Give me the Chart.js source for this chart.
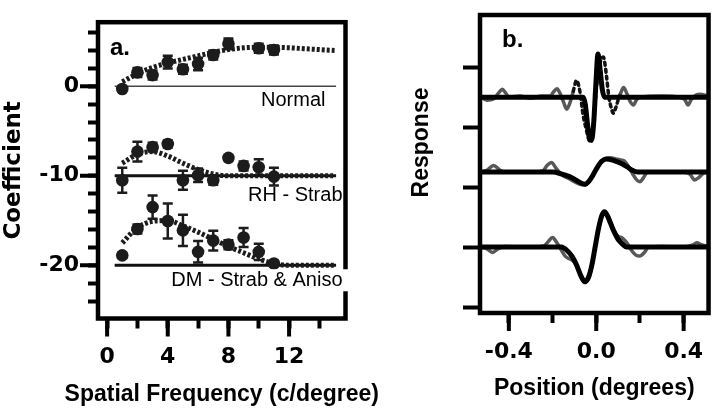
<!DOCTYPE html>
<html>
<head>
<meta charset="utf-8">
<script src="https://cdn.jsdelivr.net/npm/chart.js@4.4.0/dist/chart.umd.min.js"></script>
<style>
  html, body { margin: 0; padding: 0; background: #fff; }
  #wrap { position: relative; width: 720px; height: 411px; overflow: hidden; }
  #chartA { position: absolute; left: 0; top: 0; }
  #chartB { position: absolute; left: 400px; top: 0; }
</style>
</head>
<body>
<div id="wrap">
  <canvas id="chartA" width="400" height="411"></canvas>
  <canvas id="chartB" width="320" height="411"></canvas>
</div>
<script>
// ---- panel a: coefficient vs spatial frequency ----
const freqNormal = [1, 2, 3, 4, 5, 6, 7, 8, 10, 11];
const coefNormal = [-0.3, 1.55, 1.25, 2.7, 1.9, 2.5, 3.5, 4.75, 4.25, 4.05];
const errNormal = [0.2, 0.5, 0.5, 0.7, 0.5, 0.7, 0.5, 0.6, 0.5, 0.5];

const freqStrab = [1, 2, 3, 4, 5, 6, 7, 8, 9, 10, 11];
const coefRH = [-10.5, -7.3, -6.8, -6.45, -10.5, -9.95, -10.5, -8.0, -8.9, -9.05, -10.1];
const errRH = [1.4, 1.1, 0.5, 0.4, 1.05, 0.75, 0.5, 0.3, 0.5, 0.9, 1.0];
const coefDM = [-18.9, -15.95, -13.5, -15.05, -16.1, -18.5, -17.25, -17.7, -16.9, -18.5, -19.8];
const errDM = [0.3, 0.5, 1.3, 1.95, 1.75, 1.2, 1.1, 0.5, 1.05, 0.9, 0.3];

const fitFreq = [1, 2, 3, 4, 5, 6, 7, 8, 9, 10, 11, 12, 13, 14, 15];
const fitNormal = [0.5, 1.4, 2.1, 2.6, 3.0, 3.4, 3.8, 4.1, 4.3, 4.35, 4.35, 4.3, 4.2, 4.1, 4.0];
const fitRH = [-8.6, -7.6, -7.3, -7.8, -8.6, -9.3, -9.8, -10, -10, -10, -10, -10, -10, -10, -10];
const fitDM = [-17.5, -15.8, -15.1, -15.0, -15.6, -16.3, -17.1, -17.9, -18.6, -19.3, -19.8, -20, -20, -20, -20];

const baseFreq = [0.5, 15.1];
const baseNormal = [0, 0];
const baseRH = [-10, -10];
const baseDM = [-20, -20];

// ---- panel b: response vs position (traces stacked) ----
const posTopFit = [-0.53, -0.06, -0.05, -0.04, -0.03, -0.022, -0.012, -0.002, 0.008, 0.018, 0.028, 0.038, 0.05, 0.51];
const respTopFit = [3.5, 3.5, 3.38, 3.05, 2.8, 2.78, 3.05, 3.7, 4.22, 3.95, 3.62, 3.5, 3.5, 3.5];
const posTopData = [-0.53, -0.5, -0.47, -0.445, -0.43, -0.415, -0.4, -0.35, -0.3, -0.25, -0.21, -0.195, -0.18, -0.165, -0.15, -0.135, -0.12, -0.105, -0.09, -0.075, -0.06, -0.045, -0.035, -0.025, -0.01, 0.005, 0.02, 0.033, 0.04, 0.047, 0.058, 0.068, 0.078, 0.09, 0.1, 0.112, 0.125, 0.14, 0.155, 0.17, 0.185, 0.2, 0.3, 0.38, 0.405, 0.42, 0.435, 0.455, 0.475, 0.51];
const respTopData = [3.5, 3.45, 3.47, 3.58, 3.63, 3.57, 3.5, 3.52, 3.48, 3.52, 3.52, 3.59, 3.64, 3.56, 3.42, 3.3, 3.41, 3.6, 3.78, 3.6, 3.2, 2.95, 2.8, 2.75, 3.2, 3.8, 4.1, 4.17, 4.05, 3.85, 3.5, 3.33, 3.23, 3.33, 3.45, 3.57, 3.66, 3.56, 3.43, 3.37, 3.46, 3.5, 3.52, 3.5, 3.46, 3.37, 3.46, 3.53, 3.55, 3.52];

const posMidFit = [-0.53, -0.2, -0.16, -0.12, -0.09, -0.065, -0.05, -0.035, -0.015, 0.005, 0.025, 0.045, 0.075, 0.11, 0.14, 0.165, 0.19, 0.51];
const respMidFit = [2.25, 2.25, 2.22, 2.17, 2.11, 2.06, 2.05, 2.09, 2.2, 2.33, 2.43, 2.47, 2.45, 2.4, 2.34, 2.28, 2.25, 2.25];
const posMidData = [-0.53, -0.5, -0.47, -0.44, -0.42, -0.3, -0.245, -0.225, -0.205, -0.185, -0.16, -0.13, -0.1, -0.07, -0.05, -0.035, -0.015, 0.005, 0.025, 0.045, 0.065, 0.09, 0.115, 0.13, 0.15, 0.17, 0.185, 0.2, 0.215, 0.235, 0.3, 0.4, 0.43, 0.45, 0.47, 0.49, 0.51];
const respMidData = [2.25, 2.28, 2.36, 2.28, 2.25, 2.25, 2.27, 2.36, 2.41, 2.32, 2.21, 2.15, 2.09, 2.04, 2.03, 2.08, 2.2, 2.33, 2.43, 2.48, 2.49, 2.47, 2.45, 2.43, 2.33, 2.2, 2.12, 2.09, 2.15, 2.25, 2.25, 2.25, 2.21, 2.12, 2.16, 2.23, 2.25];

const posBotFit = [-0.53, -0.16, -0.13, -0.11, -0.09, -0.07, -0.052, -0.035, -0.02, -0.005, 0.01, 0.025, 0.038, 0.05, 0.065, 0.08, 0.1, 0.12, 0.14, 0.51];
const respBotFit = [1, 1, 0.93, 0.84, 0.7, 0.52, 0.42, 0.5, 0.7, 1.0, 1.3, 1.52, 1.59, 1.53, 1.4, 1.27, 1.13, 1.05, 1.0, 1.0];
const posBotData = [-0.53, -0.5, -0.475, -0.45, -0.42, -0.3, -0.24, -0.22, -0.2, -0.18, -0.16, -0.14, -0.12, -0.1, -0.08, -0.06, -0.04, -0.02, 0.0, 0.02, 0.04, 0.06, 0.08, 0.1, 0.12, 0.14, 0.16, 0.18, 0.2, 0.22, 0.24, 0.3, 0.4, 0.44, 0.46, 0.48, 0.51];
const respBotData = [1, 0.97, 0.91, 0.97, 1.01, 1.0, 1.02, 1.09, 1.16, 1.07, 0.95, 0.84, 0.8, 0.75, 0.62, 0.45, 0.45, 0.68, 1.1, 1.45, 1.58, 1.48, 1.27, 1.18, 1.15, 1.07, 0.95, 0.87, 0.85, 0.91, 1.0, 1.01, 1.0, 1.03, 1.07, 1.04, 1.01];

Chart.defaults.color = '#000';
Chart.defaults.font.family = 'Liberation Sans';

const tickFont = { family: 'DejaVu Sans', weight: 'bold', size: 22 };
const titleFont = { family: 'Liberation Sans', weight: 'bold', size: 23 };

function xy(xs, ys) {
  return xs.map((x, i) => ({ x: x, y: ys[i] }));
}

function markers(xs, ys) {
  return { data: xy(xs, ys), pointRadius: 6.3, pointBorderWidth: 0, pointBackgroundColor: '#1c1c1c', showLine: false };
}

function dotted(xs, ys) {
  return { data: xy(xs, ys), showLine: true, pointRadius: 0, borderColor: '#1c1c1c', borderWidth: 5, borderDash: [3, 2], cubicInterpolationMode: 'monotone' };
}

function baseline(xs, ys, w, c) {
  return { data: xy(xs, ys), showLine: true, pointRadius: 0, borderColor: c, borderWidth: w };
}

function trace(xs, ys, w, c) {
  return { data: xy(xs, ys), showLine: true, pointRadius: 0, borderColor: c, borderWidth: w, cubicInterpolationMode: 'monotone', borderJoinStyle: 'round', borderCapStyle: 'round' };
}

function longTicks(ctx, scale, values, len) {
  ctx.lineWidth = 4;
  ctx.strokeStyle = '#000';
  values.forEach(v => {
    const p = scale.getPixelForValue(v);
    ctx.beginPath();
    if (scale.isHorizontal()) {
      ctx.moveTo(p, scale.top);
      ctx.lineTo(p, scale.top + len);
    } else {
      ctx.moveTo(scale.right, p);
      ctx.lineTo(scale.right - len, p);
    }
    ctx.stroke();
  });
}

function frame(ctx, a) {
  ctx.lineWidth = 4.5;
  ctx.strokeStyle = '#000';
  ctx.strokeRect(a.left, a.top, a.right - a.left, a.bottom - a.top);
}

const panelA = {
  id: 'panelA',
  beforeDatasetsDraw(chart) {
    const { ctx, scales: { x, y } } = chart;
    ctx.save();
    ctx.strokeStyle = '#1c1c1c';
    ctx.lineWidth = 2.5;
    [[freqNormal, coefNormal, errNormal], [freqStrab, coefRH, errRH], [freqStrab, coefDM, errDM]].forEach(g => {
      g[0].forEach((f, i) => {
        const px = x.getPixelForValue(f);
        const top = y.getPixelForValue(g[1][i] + g[2][i]);
        const bot = y.getPixelForValue(g[1][i] - g[2][i]);
        ctx.beginPath();
        ctx.moveTo(px, top); ctx.lineTo(px, bot);
        ctx.moveTo(px - 5, top); ctx.lineTo(px + 5, top);
        ctx.moveTo(px - 5, bot); ctx.lineTo(px + 5, bot);
        ctx.stroke();
      });
    });
    ctx.restore();
  },
  afterDraw(chart) {
    const { ctx, chartArea: a, scales: { x, y } } = chart;
    ctx.save();
    frame(ctx, a);
    longTicks(ctx, x, [0, 4, 8, 12], 18);
    longTicks(ctx, y, [0, -10, -20], 18);

    ctx.fillStyle = '#000';
    ctx.textBaseline = 'alphabetic';
    ctx.textAlign = 'left';
    ctx.font = 'bold 24px "Liberation Sans"';
    ctx.fillText('a.', a.left + 12, a.top + 33);

    ctx.font = '20px "Liberation Sans"';
    ctx.textAlign = 'right';
    ctx.fillText('Normal', a.right - 20, y.getPixelForValue(0) + 20);
    ctx.fillText('RH - Strab', a.right - 3, y.getPixelForValue(-10) + 25);
    const dm = 'DM - Strab & Aniso';
    const dmY = y.getPixelForValue(-20) + 21;
    const w = ctx.measureText(dm).width;
    ctx.fillStyle = '#fff';
    ctx.fillRect(a.right - 7 - w, dmY - 17, w + 12, 22);
    ctx.fillStyle = '#000';
    ctx.fillText(dm, a.right - 3, dmY);

    // x title is wider than the plot, so it is drawn here without squeezing
    ctx.font = 'bold 23px "Liberation Sans"';
    ctx.textAlign = 'center';
    ctx.textBaseline = 'middle';
    ctx.fillText('Spatial Frequency (c/degree)', (a.left + a.right) / 2, 395);
    ctx.restore();
  }
};

new Chart(document.getElementById('chartA'), {
  type: 'scatter',
  data: {
    datasets: [
      markers(freqNormal, coefNormal),
      markers(freqStrab, coefRH),
      markers(freqStrab, coefDM),
      dotted(fitFreq, fitNormal),
      dotted(fitFreq, fitRH),
      dotted(fitFreq, fitDM),
      baseline(baseFreq, baseNormal, 1.5, '#444'),
      baseline(baseFreq, baseRH, 3, '#111'),
      baseline(baseFreq, baseDM, 3, '#111')
    ]
  },
  options: {
    responsive: false,
    animation: false,
    layout: { padding: { top: 4, right: 54.5, left: 0, bottom: 0 } },
    plugins: { legend: { display: false }, tooltip: { enabled: false } },
    scales: {
      x: {
        type: 'linear', min: -0.6, max: 15.72,
        afterFit: s => { s.height = 92.5; },
        border: { display: false },
        grid: { drawOnChartArea: false, tickLength: 10, tickWidth: 4, tickColor: '#000' },
        ticks: {
          stepSize: 2, includeBounds: false, autoSkip: false, maxRotation: 0, padding: 16, font: tickFont,
          callback: v => (v % 4 === 0 ? String(v) : '')
        }
      },
      y: {
        type: 'linear', min: -25.95, max: 7.16,
        afterFit: s => { s.width = 98; },
        border: { display: false },
        grid: { drawOnChartArea: false, tickLength: 10, tickWidth: 4, tickColor: '#000' },
        ticks: {
          stepSize: 2, includeBounds: false, autoSkip: false, padding: 9, font: tickFont,
          callback: v => (v % 10 === 0 ? String(v) : '')
        },
        title: { display: true, text: 'Coefficient', font: { family: 'DejaVu Sans', weight: 'bold', size: 23 }, padding: { top: 0, bottom: 0 } }
      }
    }
  },
  plugins: [panelA]
});

const panelB = {
  id: 'panelB',
  afterDraw(chart) {
    const { ctx, chartArea: a, scales: { x } } = chart;
    ctx.save();
    frame(ctx, a);
    longTicks(ctx, x, [-0.4, 0, 0.4], 18);
    ctx.fillStyle = '#000';
    ctx.textBaseline = 'alphabetic';
    ctx.textAlign = 'left';
    ctx.font = 'bold 24px "Liberation Sans"';
    ctx.fillText('b.', a.left + 22, a.top + 32);

    ctx.translate(a.left - 58, a.top + 127.5);
    ctx.rotate(-Math.PI / 2);
    ctx.textAlign = 'center';
    ctx.textBaseline = 'middle';
    ctx.font = 'bold 23px "Liberation Sans"';
    ctx.fillText('Response', 0, 0);
    ctx.restore();
  }
};

const topData = trace(posTopData, respTopData, 3.5, '#585858');
topData.segment = {
  borderDash: c => (c.p0.parsed.x >= -0.106 && c.p1.parsed.x <= 0.113 ? [3, 4] : undefined),
  borderColor: c => (c.p0.parsed.x >= -0.106 && c.p1.parsed.x <= 0.113 ? '#111' : undefined)
};

new Chart(document.getElementById('chartB'), {
  type: 'scatter',
  data: {
    datasets: [
      trace(posTopFit, respTopFit, 5, '#000'),
      trace(posMidFit, respMidFit, 5, '#000'),
      trace(posBotFit, respBotFit, 5, '#000'),
      topData,
      trace(posMidData, respMidData, 3.5, '#585858'),
      trace(posBotData, respBotData, 3.5, '#585858')
    ]
  },
  options: {
    responsive: false,
    animation: false,
    layout: { padding: { top: 15, right: 8, left: 0, bottom: 0 } },
    plugins: { legend: { display: false }, tooltip: { enabled: false } },
    scales: {
      x: {
        type: 'linear', min: -0.532, max: 0.514,
        afterFit: s => { s.height = 98; },
        border: { display: false },
        grid: { drawOnChartArea: false, tickLength: 10, tickWidth: 4, tickColor: '#000' },
        ticks: {
          stepSize: 0.2, includeBounds: false, autoSkip: false, maxRotation: 0, padding: 16, font: tickFont,
          callback: v => {
            const k = Math.round(v * 10);
            return k % 4 === 0 ? (k / 10).toFixed(1) : '';
          }
        },
        title: { display: true, text: 'Position (degrees)', font: titleFont, padding: { top: 0, bottom: 9 } }
      },
      y: {
        type: 'linear', min: -0.1, max: 4.87,
        afterFit: s => { s.width = 80; },
        border: { display: false },
        grid: { drawOnChartArea: false, tickLength: 17, tickWidth: 4, tickColor: '#000' },
        ticks: { stepSize: 1, includeBounds: false, autoSkip: false, callback: () => '' }
      }
    }
  },
  plugins: [panelB]
});
</script>
</body>
</html>
